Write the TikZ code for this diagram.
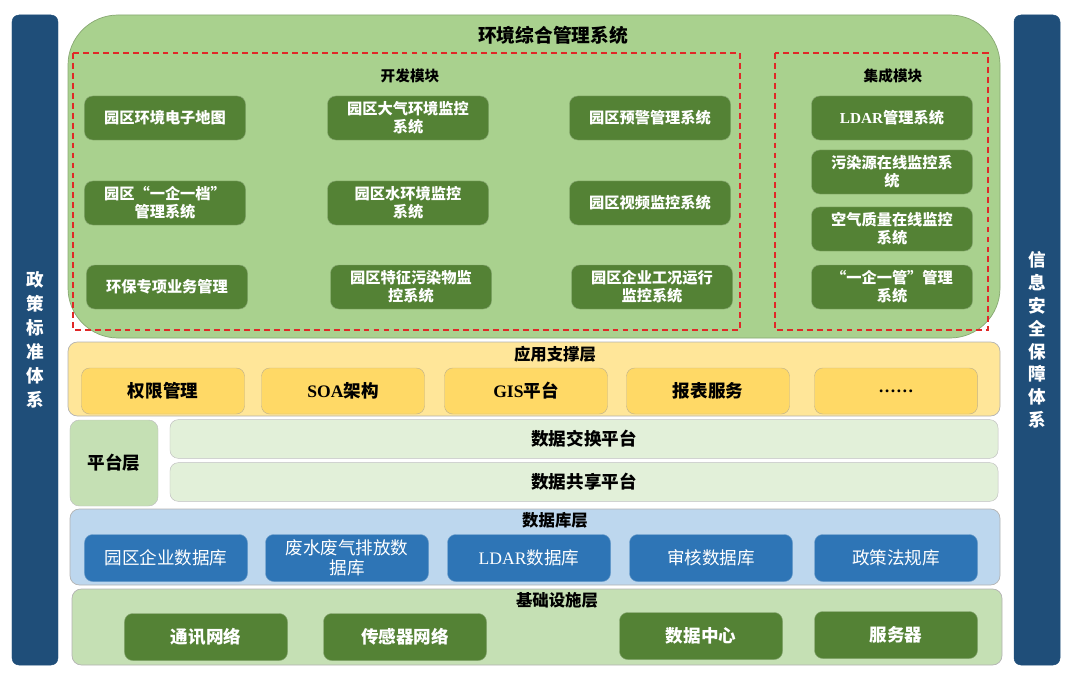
\documentclass[tikz,border=0pt]{standalone}
\usepackage{fontspec}
\setmainfont{Noto Sans CJK SC}
\newfontfamily\latinserif{Liberation Serif}
\usepackage{xcolor}
\usetikzlibrary{positioning}

\definecolor{barblue}{HTML}{1F4E79}
\definecolor{sysgreen}{HTML}{A9D18E}
\definecolor{boxgreen}{HTML}{548235}
\definecolor{supyellow}{HTML}{FFE699}
\definecolor{supbox}{HTML}{FFD966}
\definecolor{platgreen}{HTML}{C5E0B4}
\definecolor{platbar}{HTML}{E2F0D9}
\definecolor{dblayer}{HTML}{BDD7EE}
\definecolor{dbblue}{HTML}{2E75B6}
\definecolor{dashred}{HTML}{E02828}

\newcommand{\fs}[2]{\fontsize{#1}{#2}\selectfont}

\begin{document}
\begin{tikzpicture}[
x=0.03cm, y=-0.03cm,
sidebar/.style={
    rectangle,
    rounded corners=6pt,
    fill=barblue,
    draw=barblue,
    minimum width=1.38cm,
    minimum height=19.5cm,
    text=white,
    align=center,
    font=\bfseries\fs{15}{20.5}
},
layer/.style={
    rounded corners=8pt,
    draw=gray!60,
    line width=0.6pt
},
devbox/.style={
    rectangle,
    rounded corners=7pt,
    fill=boxgreen,
    draw=boxgreen!70!white,
    text=white,
    align=center,
    inner sep=1pt,
    minimum width=4.83cm,
    minimum height=1.32cm,
    font=\bfseries\fs{13}{15.5}
},
supitem/.style={
    rectangle,
    rounded corners=7pt,
    fill=supbox,
    draw=supbox!60!black!60,
    align=center,
    inner sep=1pt,
    minimum width=4.89cm,
    minimum height=1.38cm,
    font=\bfseries\fs{15}{17}
},
platbarbox/.style={
    rectangle,
    rounded corners=7pt,
    fill=platbar,
    draw=gray!50,
    minimum width=24.84cm,
    minimum height=1.16cm,
    font=\bfseries\fs{15}{17}
},
dbitem/.style={
    rectangle,
    rounded corners=7pt,
    fill=dbblue,
    draw=dbblue!70!white,
    text=white,
    align=center,
    inner sep=1pt,
    minimum width=4.89cm,
    minimum height=1.41cm,
    font=\fs{15}{17}
},
infraitem/.style={
    devbox,
    minimum width=4.89cm,
    minimum height=1.41cm,
    font=\bfseries\fs{15}{17}
},
ltitle/.style={font=\bfseries\fs{14}{16}},
moddash/.style={draw=dashred, line width=1pt, dash pattern=on 5pt off 3.5pt}
]
\useasboundingbox (0,0) rectangle (1070,677);

% side bars
\node[sidebar] (policy) at (35,340) {政\\策\\标\\准\\体\\系};
\node[sidebar, font=\bfseries\fs{15}{19.5}] (security) at (1037,340) {信\\息\\安\\全\\保\\障\\体\\系};

% environment management system
\draw[fill=sysgreen, draw=sysgreen!80!black, line width=0.6pt, rounded corners=1.5cm] (68,15) rectangle (1000,338);
\node[font=\bfseries\fs{16}{18}] (systitle) at (553,35) {环境综合管理系统};
\draw[moddash] (73,53) rectangle (740,330);
\draw[moddash] (775,53) rectangle (988,330);
\node[font=\bfseries\fs{12.5}{14}] (devtitle) at (410,76) {开发模块};
\node[font=\bfseries\fs{12.5}{14}] (inttitle) at (893,76) {集成模块};

\node[devbox] (map) at (165,118) {园区环境电子地图};
\node[devbox] (air) at (408,118) {园区大气环境监控\\系统};
\node[devbox] (warn) at (650,118) {园区预警管理系统};
\node[devbox] (file) at (165,203) {园区“一企一档”\\管理系统};
\node[devbox] (water) at (408,203) {园区水环境监控\\系统};
\node[devbox] (video) at (650,203) {园区视频监控系统};
\node[devbox] (env) at (167,287) {环保专项业务管理};
\node[devbox] (pollut) at (411,287) {园区特征污染物监\\控系统};
\node[devbox] (work) at (652,287) {园区企业工况运行\\监控系统};

\node[devbox] (ldar) at (892,118) {{\latinserif LDAR}管理系统};
\node[devbox] (source) at (892,172) {污染源在线监控系\\统};
\node[devbox] (quality) at (892,229) {空气质量在线监控\\系统};
\node[devbox] (manage) at (892,287) {“一企一管”管理\\系统};

% application support layer
\draw[layer, fill=supyellow] (68,342) rectangle (1000,416);
\node[ltitle] (suptitle) at (555,354) {应用支撑层};
\node[supitem] (auth) at (163,391) {权限管理};
\node[supitem] (soa) at (343,391) {{\latinserif SOA}架构};
\node[supitem] (gis) at (526,391) {{\latinserif GIS}平台};
\node[supitem] (report) at (708,391) {报表服务};
\node[supitem] (more) at (896,391) {{\latinserif ……}};

% platform layer
\node[rectangle, rounded corners=8pt, fill=platgreen, draw=gray!50, minimum width=2.64cm, minimum height=2.58cm, font=\bfseries\fs{15}{17}] (plat) at (114,463) {平台层};
\node[platbarbox] (exchange) at (584,439) {数据交换平台};
\node[platbarbox] (share) at (584,482) {数据共享平台};

% database layer
\draw[layer, fill=dblayer] (70,509) rectangle (1000,585);
\node[ltitle] (dbtitle) at (555,520) {数据库层};
\node[dbitem] (entdb) at (166,558) {园区企业数据库};
\node[dbitem] (emitdb) at (347,558) {废水废气排放数\\据库};
\node[dbitem] (ldardb) at (529,558) {{\latinserif LDAR}数据库};
\node[dbitem] (auditdb) at (711,558) {审核数据库};
\node[dbitem] (lawdb) at (896,558) {政策法规库};

% infrastructure layer
\draw[layer, fill=platgreen] (72,589) rectangle (1002,665);
\node[ltitle] (infratitle) at (557,600) {基础设施层};
\node[infraitem] (comm) at (206,637) {通讯网络};
\node[infraitem] (sensor) at (405,637) {传感器网络};
\node[infraitem] (center) at (701,636) {数据中心};
\node[infraitem] (server) at (896,635) {服务器};
\end{tikzpicture}
\end{document}
